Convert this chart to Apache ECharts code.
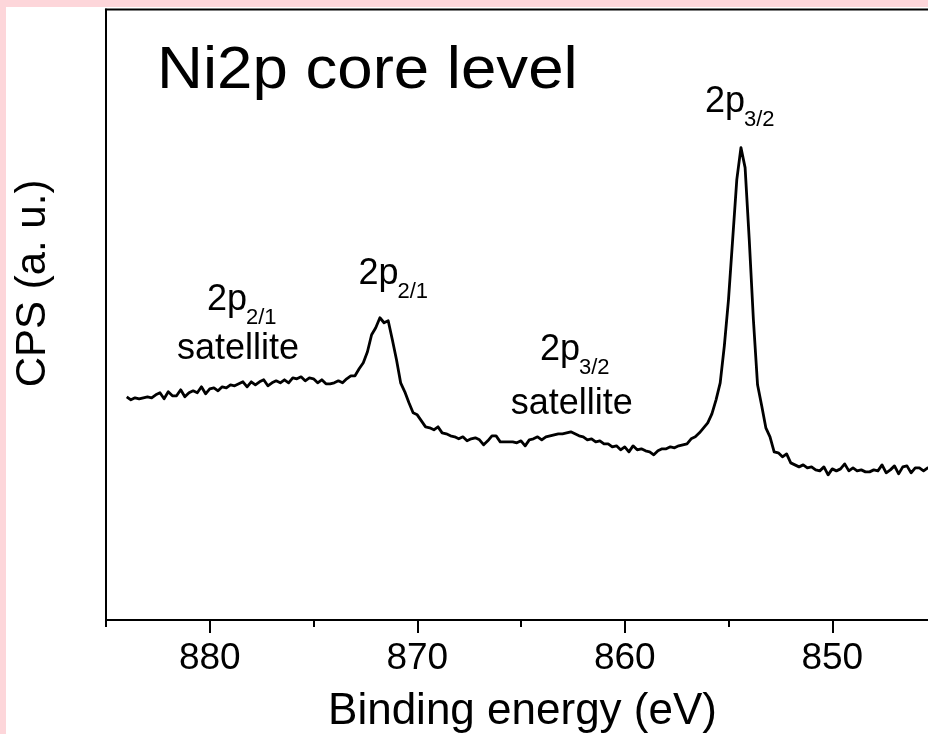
<!DOCTYPE html>
<html>
<head>
<meta charset="utf-8">
<script src="https://cdn.jsdelivr.net/npm/echarts@6/dist/echarts.min.js"></script>
<style>
  html, body { margin: 0; padding: 0; background: #fdd6da; width: 928px; height: 734px; overflow: hidden; position: relative; }
  #chart { position: absolute; left: 6px; top: 7px; width: 950px; height: 727px; background: #ffffff; }
</style>
</head>
<body>
<div id="chart"></div>
<script>
// Binding energy (eV) at 0.2 eV steps
const energy = [
  884.0, 883.8, 883.6, 883.4, 883.2, 883.0, 882.8, 882.6, 882.4, 882.2,
  882.0, 881.8, 881.6, 881.4, 881.2, 881.0, 880.8, 880.6, 880.4, 880.2,
  880.0, 879.8, 879.6, 879.4, 879.2, 879.0, 878.8, 878.6, 878.4, 878.2,
  878.0, 877.8, 877.6, 877.4, 877.2, 877.0, 876.8, 876.6, 876.4, 876.2,
  876.0, 875.8, 875.6, 875.4, 875.2, 875.0, 874.8, 874.6, 874.4, 874.2,
  874.0, 873.8, 873.6, 873.4, 873.2, 873.0, 872.8, 872.6, 872.4, 872.2,
  872.0, 871.8, 871.6, 871.4, 871.2, 871.0, 870.8, 870.6, 870.4, 870.2,
  870.0, 869.8, 869.6, 869.4, 869.2, 869.0, 868.8, 868.6, 868.4, 868.2,
  868.0, 867.8, 867.6, 867.4, 867.2, 867.0, 866.8, 866.6, 866.4, 866.2,
  866.0, 865.8, 865.6, 865.4, 865.2, 865.0, 864.8, 864.6, 864.4, 864.2,
  864.0, 863.8, 863.6, 863.4, 863.2, 863.0, 862.8, 862.6, 862.4, 862.2,
  862.0, 861.8, 861.6, 861.4, 861.2, 861.0, 860.8, 860.6, 860.4, 860.2,
  860.0, 859.8, 859.6, 859.4, 859.2, 859.0, 858.8, 858.6, 858.4, 858.2,
  858.0, 857.8, 857.6, 857.4, 857.2, 857.0, 856.8, 856.6, 856.4, 856.2,
  856.0, 855.8, 855.6, 855.4, 855.2, 855.0, 854.8, 854.6, 854.4, 854.2,
  854.0, 853.8, 853.6, 853.4, 853.2, 853.0, 852.8, 852.6, 852.4, 852.2,
  852.0, 851.8, 851.6, 851.4, 851.2, 851.0, 850.8, 850.6, 850.4, 850.2,
  850.0, 849.8, 849.6, 849.4, 849.2, 849.0, 848.8, 848.6, 848.4, 848.2,
  848.0, 847.8, 847.6, 847.4, 847.2, 847.0, 846.8, 846.6, 846.4, 846.2,
  846.0, 845.8, 845.6, 845.4, 845.2
];
// CPS (arbitrary units)
const cps = [
  223, 220, 222, 221, 222, 223, 222, 225, 227, 221,
  228, 224, 224, 230, 223, 227, 229, 227, 233, 226,
  231, 232, 229, 233, 232, 235, 234, 236, 238, 233,
  238, 235, 238, 240, 234, 237, 239, 237, 240, 237,
  242, 241, 243, 239, 242, 241, 237, 240, 236, 236,
  237, 239, 237, 241, 244, 244, 251, 257, 268, 285,
  292, 302, 297, 299, 280, 260, 237, 228, 217, 207,
  205, 199, 193, 192, 190, 193, 187, 186, 184, 183,
  181, 183, 179, 181, 182, 180, 175, 179, 184, 184,
  178, 178, 178, 178, 177, 179, 174, 180, 181, 183,
  180, 183, 184, 185, 186, 186, 187, 188, 186, 184,
  183, 180, 181, 178, 179, 176, 176, 173, 174, 170,
  173, 168, 174, 170, 171, 169, 168, 165, 169, 171,
  171, 173, 172, 174, 175, 176, 181, 183, 187, 192,
  197, 206, 220, 237, 274, 320, 380, 440, 472, 452,
  380, 300, 235, 214, 192, 183, 168, 167, 163, 166,
  157, 155, 153, 155, 152, 153, 150, 149, 153, 145,
  151, 149, 151, 156, 149, 152, 149, 150, 148, 148,
  150, 149, 155, 147, 150, 154, 146, 153, 154, 147,
  152, 152, 149, 152, 151
];
const xTickLabels = [880, 870, 860, 850];

const FONT = '"Liberation Sans", Arial, Helvetica, sans-serif';
const chart = echarts.init(document.getElementById('chart'), null, { renderer: 'canvas' });
const seriesData = energy.map((e, i) => [e, cps[i]]);

function txt(text, x, y, size, align, extra) {
  return Object.assign({
    type: 'text', x: x, y: y, silent: true, z: 100,
    style: {
      text: text, font: size + 'px ' + FONT, fill: '#000',
      align: align, textAlign: align, verticalAlign: 'middle', textVerticalAlign: 'middle'
    }
  }, extra || {});
}
// baseline -> middle offset for Arial-like fonts
function mid(baseline, size) { return baseline - 0.3465 * size; }
const OX = 6, OY = 7;

chart.setOption({
  animation: false,
  backgroundColor: '#ffffff',
  grid: {
    left: 100, top: 2.5, right: 20, bottom: 114,
    show: true, borderColor: '#000', borderWidth: 2, backgroundColor: 'transparent'
  },
  xAxis: [
    {
      type: 'value', inverse: true, min: 845, max: 885, interval: 5,
      position: 'bottom',
      axisLine: { show: true, lineStyle: { color: '#000', width: 2 } },
      axisTick: { show: true, inside: false, length: 7, lineStyle: { color: '#000', width: 2 } },
      axisLabel: {
        show: true, margin: 20, fontSize: 37, color: '#000', fontFamily: FONT,
        formatter: function (v) { return xTickLabels.indexOf(v) >= 0 ? String(v) : ''; }
      },
      splitLine: { show: false }
    },
    {
      type: 'value', inverse: true, min: 845, max: 885, interval: 5,
      position: 'bottom',
      axisLine: { show: false },
      axisTick: { show: true, inside: false, length: 13, customValues: xTickLabels, lineStyle: { color: '#000', width: 2 } },
      axisLabel: { show: false },
      splitLine: { show: false }
    }
  ],
  yAxis: {
    type: 'value', min: 0, max: 610,
    axisLine: { show: true, lineStyle: { color: '#000', width: 2 } },
    axisTick: { show: false }, axisLabel: { show: false }, splitLine: { show: false }
  },
  series: [{
    type: 'line', xAxisIndex: 0, yAxisIndex: 0,
    data: seriesData, showSymbol: false, symbol: 'none',
    lineStyle: { color: '#000', width: 2.8, join: 'round' },
    z: 5
  }],
  graphic: [
    txt('Ni2p core level', 157 - OX, mid(92, 60) - OY, 60, 'left', { scaleX: 1.06 }),
    txt('CPS (a. u.)', 33.5 - OX, 283.5 - OY, 42, 'center', { rotation: Math.PI / 2 }),
    txt('Binding energy (eV)', 522.5 - OX, mid(727, 44) - OY, 44, 'center'),
    // top peak label
    txt('2p', 705 - OX, mid(115, 36) - OY, 36, 'left'),
    txt('3/2', 744 - OX, mid(128, 22) - OY, 22, 'left'),
    // 2p2/1 peak label
    txt('2p', 358.5 - OX, mid(287, 36) - OY, 36, 'left'),
    txt('2/1', 397.5 - OX, mid(300, 22) - OY, 22, 'left'),
    // left satellite label
    txt('2p', 207 - OX, mid(313, 36) - OY, 36, 'left'),
    txt('2/1', 246 - OX, mid(326, 22) - OY, 22, 'left'),
    txt('satellite', 238 - OX, mid(362, 36) - OY, 36, 'center'),
    // middle satellite label
    txt('2p', 540 - OX, mid(363, 36) - OY, 36, 'left'),
    txt('3/2', 579 - OX, mid(376, 22) - OY, 22, 'left'),
    txt('satellite', 571.7 - OX, mid(417, 36) - OY, 36, 'center')
  ]
});
</script>
</body>
</html>
